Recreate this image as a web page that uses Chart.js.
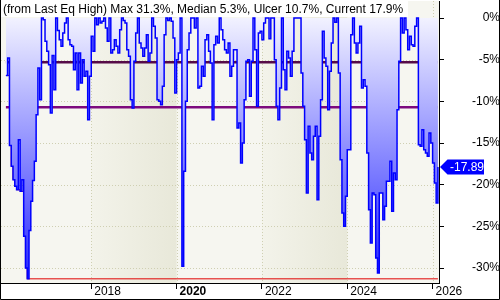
<!DOCTYPE html>
<html>
<head>
<meta charset="utf-8">
<title>Drawdown</title>
<script src="https://cdn.jsdelivr.net/npm/chart.js@4.4.1/dist/chart.umd.min.js"></script>
<style>
  html, body { margin: 0; padding: 0; background: #fff; }
  #wrap { width: 500px; height: 300px; }
</style>
</head>
<body>
<div id="wrap"><canvas id="myChart" width="500" height="300"></canvas></div>
<script>
'use strict';

// drawdown from last equity high (%), semi-monthly samples from Jan 2016
let startYear = 2016;
let perYear = 24;
let drawdown = [
  -6.9, -4.8, -15.3, -17.8, -19.4, -20.2, -20.6, -14.6, -20.8, -19.4,
  -26.2, -30.0, -31.3, -25.5, -22.0, -19.5, -17.2, -11.6, -6.0, -9.8,
  0, -0.2, -2.8, -4.0, -5.6, -11.4, -4.5, -8.6, 0, -1.5,
  -2.6, -3.4, -1.8, -0.6, 0, -2.6, -3.2, -3.4, -6.2, -4.2,
  -8.6, -4.2, -7.8, -5.0, -7.0, -6.4, -12.2, -7.0, -2.2, -4.0,
  0, -0.8, 0, -0.6, -0.4, 0, -1.2, -2.8, 0, -4.2,
  -3.8, -2.6, -3.4, -4.2, -1.4, 0, -0.3, -0.6, -3.8, -4.6,
  -9.8, -10.8, -5.2, -1.8, 0, -3.0, -3.6, -4.6, -3.6, -2.0,
  -5.2, -4.2, 0, -1.0, -2.4, -9.8, -10.0, -10.4, -8.2, -2.0,
  0, -0.3, 0, -0.4, -2.4, -9.0, -5.0, -4.2, 0, -29.8,
  -18.4, -10.0, -3.8, -1.8, 0, 0, -1.2, 0, -8.4, -8.2,
  -5.8, -7.0, -2.6, -2.0, -4.0, -5.4, -12.2, -3.2, -2.2, -3.0,
  0, -1.4, -2.6, -3.8, -4.2, -3.0, -7.0, -5.8, -3.8, -3.8,
  -13.2, -12.6, -17.4, -15.0, -9.8, -5.2, -5.0, -9.4, -5.2, 0,
  -3.8, -10.6, -1.8, -1.6, -2.6, -0.6, 0, 0, -2.5, 0,
  0, -5.0, -10.6, -12.2, -8.4, 0, -6.2, -8.6, -4.0, -4.8,
  -7.0, -4.0, 0, 0, 0, 0, -6.6, -10.6, -14.6, -21.0,
  -13.0, -16.2, -17.0, -14.2, -13.0, -21.8, -14.2, -9.8, -1.6, -4.8,
  -5.8, -11.0, -6.4, -3.0, 0, -0.5, 0, -6.6, -17.0, -23.4,
  -25.0, -21.4, -15.8, -15.8, -2.0, 0, -3.0, -4.2, -3.0, -1.0,
  -8.4, -7.4, -8.2, -16.2, -23.0, -27.0, -21.0, -21.2, -28.8, -30.6,
  -21.0, -21.0, -24.2, -22.6, -19.6, -19.6, -17.2, -23.2, -18.6, -19.4,
  -11.0, -5.2, 0, -1.8, 0, -1.4, -3.8, -2.2, -3.2, -3.4,
  -1.0, 0, -15.2, -15.4, -13.4, -15.8, -16.2, -16.6, -13.8, -15.0,
  -17.4, -19.8, -22.2, -17.89
];

// worst drawdown so far (red step line)
let worstIdx = [0, 2, 3, 4, 5, 6, 8, 10, 11, 12, 243];
let worstVal = [-6.9, -15.3, -17.8, -19.4, -20.2, -20.6, -20.8, -26.2, -30.0, -31.3, -31.3];

let maxDD = -31.3;
let medianDD = -5.3;
let ulcerDD = -10.7;
let currentDD = -17.89;
let titleText = '(from Last Eq High) Max 31.3%, Median 5.3%, Ulcer 10.7%, Current 17.9%';

let yearTicks = [2018, 2020, 2022, 2024, 2026];
let pctTicks = [-30, -25, -20, -15, -10, -5, 0];
let shadedYears = [[2018, 2020], [2022, 2024]];

function toYear(i) {
    return startYear + i / perYear;
}

let lastIdx = drawdown.length - 1;
let ddPoints = drawdown.map((v, i) => ({ x: toYear(i), y: v }));
let worstPoints = worstIdx.map((idx, i) => ({ x: toYear(idx), y: worstVal[i] }));

function flatLine(v) {
    return [{ x: toYear(0), y: v }, { x: toYear(lastIdx), y: v }];
}

let fontFamily = "'Liberation Sans', Arial, sans-serif";
Chart.defaults.font.family = fontFamily;
Chart.defaults.font.size = 12;
Chart.defaults.color = '#000';

// bands, dotted grid
let backdrop = {
    id: 'backdrop',
    beforeDatasetsDraw(chart) {
        let ctx = chart.ctx;
        let ca = chart.chartArea;
        let xs = chart.scales.x;
        let ys = chart.scales.y;
        ctx.save();
        ctx.fillStyle = '#f6f6f0';
        ctx.fillRect(ca.left, ca.top, ca.width, ca.height);
        shadedYears.forEach(b => {
            let x0 = xs.getPixelForValue(b[0]);
            let x1 = xs.getPixelForValue(b[1]);
            let g = ctx.createLinearGradient(x0, 0, x1, 0);
            g.addColorStop(0, '#f3f3ea');
            g.addColorStop(1, '#e8e8d9');
            ctx.fillStyle = g;
            ctx.fillRect(x0, ca.top, x1 - x0, ca.height);
        });
        ctx.strokeStyle = '#cfcfb2';
        ctx.lineWidth = 1;
        ctx.setLineDash([1, 2]);
        pctTicks.forEach(v => {
            if (v === 0) return;
            let py = Math.round(ys.getPixelForValue(v)) + 0.5;
            ctx.beginPath();
            ctx.moveTo(ca.left, py);
            ctx.lineTo(ca.right, py);
            ctx.stroke();
        });
        yearTicks.forEach(v => {
            let px = Math.round(xs.getPixelForValue(v)) + 0.5;
            ctx.beginPath();
            ctx.moveTo(px, ca.top);
            ctx.lineTo(px, ca.bottom);
            ctx.stroke();
        });
        ctx.restore();
    }
};

// title box, current value tag, frame
let overlay = {
    id: 'overlay',
    afterDraw(chart) {
        let ctx = chart.ctx;
        let ca = chart.chartArea;
        let ys = chart.scales.y;
        ctx.save();
        ctx.fillStyle = 'rgba(255,255,255,0.96)';
        ctx.fillRect(1, 1, 407, 16);
        ctx.fillStyle = '#000';
        ctx.font = '12px ' + fontFamily;
        ctx.textBaseline = 'alphabetic';
        ctx.textAlign = 'left';
        ctx.fillText(titleText, 3, 13);

        let py = ys.getPixelForValue(currentDD);
        let x0 = ca.right + 1;
        ctx.fillStyle = '#0000ff';
        ctx.beginPath();
        ctx.moveTo(x0, py);
        ctx.lineTo(x0 + 7.5, py - 7.5);
        ctx.lineTo(484, py - 7.5);
        ctx.lineTo(484, py + 7.5);
        ctx.lineTo(x0 + 7.5, py + 7.5);
        ctx.closePath();
        ctx.fill();
        ctx.fillStyle = '#fff';
        ctx.textBaseline = 'middle';
        ctx.fillText(currentDD.toFixed(2), x0 + 10, py + 1);

        ctx.strokeStyle = '#000';
        ctx.lineWidth = 1;
        ctx.beginPath();
        ctx.moveTo(0.5, 0);
        ctx.lineTo(0.5, 299.5);
        ctx.lineTo(499.5, 299.5);
        ctx.lineTo(499.5, 0);
        ctx.stroke();
        ctx.restore();
    }
};

function ddFill(context) {
    let chart = context.chart;
    if (!chart.chartArea) return 'rgba(80,80,255,0.5)';
    let ys = chart.scales.y;
    let g = chart.ctx.createLinearGradient(0, ys.getPixelForValue(0), 0, ys.getPixelForValue(maxDD));
    g.addColorStop(0, '#f2f2ff');
    g.addColorStop(1, '#2a2aff');
    return g;
}

let ctx = document.getElementById('myChart').getContext('2d');
let myChart = new Chart(ctx, {
    type: 'line',
    data: {
        datasets: [{
            label: 'Drawdown',
            data: ddPoints,
            stepped: true,
            borderColor: '#0000ff',
            borderWidth: 1.5,
            backgroundColor: ddFill,
            fill: 'origin',
            pointRadius: 0,
            order: 0
        }, {
            label: 'Worst',
            data: worstPoints,
            stepped: true,
            borderColor: '#e00000',
            borderWidth: 1,
            fill: false,
            pointRadius: 0,
            order: 1
        }, {
            label: 'Median',
            data: flatLine(medianDD),
            borderColor: '#560c48',
            borderWidth: 2.5,
            fill: false,
            pointRadius: 0,
            order: 2
        }, {
            label: 'Ulcer',
            data: flatLine(ulcerDD),
            borderColor: '#7d0a7d',
            borderWidth: 2.5,
            fill: false,
            pointRadius: 0,
            order: 3
        }]
    },
    options: {
        responsive: false,
        animation: false,
        devicePixelRatio: 1,
        layout: { padding: { left: 1, top: 1, right: 0, bottom: 0 } },
        plugins: {
            legend: { display: false },
            tooltip: { enabled: false }
        },
        scales: {
            x: {
                type: 'linear',
                position: 'bottom',
                min: 2015.885,
                max: 2026.15,
                afterBuildTicks: s => { s.ticks = yearTicks.map(v => ({ value: v })); },
                afterFit: s => {
                    s.height = 17;
                    s.paddingLeft = 0;
                    s.paddingRight = 0;
                },
                grid: { drawOnChartArea: false, drawTicks: true, tickLength: 6, tickColor: '#000' },
                border: { color: '#000' },
                ticks: {
                    align: 'start',
                    labelOffset: 3,
                    padding: -5,
                    maxRotation: 0,
                    autoSkip: false,
                    color: '#000',
                    callback: v => String(v),
                    font: c => ({ size: 12, weight: c.tick && c.tick.value === 2020 ? 'bold' : 'normal' })
                }
            },
            y: {
                type: 'linear',
                position: 'right',
                min: -31.8,
                max: 2.04,
                afterBuildTicks: s => { s.ticks = pctTicks.map(v => ({ value: v })); },
                afterFit: s => {
                    s.width = 61;
                    s.paddingTop = 0;
                    s.paddingBottom = 0;
                },
                grid: { drawOnChartArea: false, drawTicks: true, tickLength: 5, tickColor: '#000' },
                border: { color: '#000' },
                ticks: {
                    crossAlign: 'far',
                    padding: 23,
                    color: '#000',
                    callback: v => v + '%'
                }
            }
        }
    },
    plugins: [backdrop, overlay]
});
</script>
</body>
</html>
